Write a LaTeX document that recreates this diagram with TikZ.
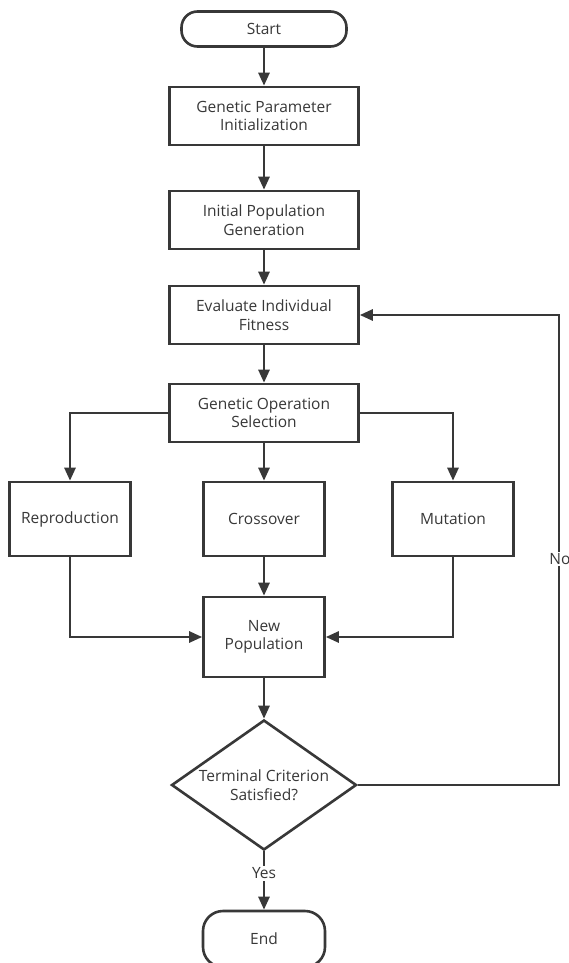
\documentclass[tikz,border=0pt]{standalone}
\usepackage{fontspec}
\setmainfont{Open Sans}
\usetikzlibrary{arrows.meta,shapes.geometric}

\definecolor{ink}{HTML}{383838}

\begin{document}
\begin{tikzpicture}[
  x=1pt, y=-1pt,
  every node/.style={font=\fontsize{15.5}{18.5}\selectfont, text=ink},
  box/.style={draw=ink, line width=2.6pt, minimum width=189pt, minimum height=58pt, align=center},
  opbox/.style={draw=ink, line width=2.6pt, minimum width=121pt, minimum height=74pt, align=center},
  term/.style={draw=ink, line width=2.6pt, rounded corners=16pt, align=center},
  decision/.style={draw=ink, line width=2.6pt, diamond, minimum width=185pt, minimum height=130pt, inner sep=0pt},
  arrow/.style={-{Triangle[length=13pt, width=11pt]}, line width=2.6pt, draw=ink}
]
\clip (0,0) rectangle (569,963);
\fill[white] (0,0) rectangle (569,963);

\node[term, minimum width=165pt, minimum height=35pt] (start) at (264, 29) {Start};
\node[box] (init) at (264, 116) {Genetic Parameter\\Initialization};
\node[box] (pop) at (264, 220) {Initial Population\\Generation};
\node[box] (eval) at (264, 315) {Evaluate Individual\\Fitness};
\node[box] (select) at (264, 413) {Genetic Operation\\Selection};

\node[opbox] (repro) at (70, 519) {Reproduction};
\node[opbox] (cross) at (264, 519) {Crossover};
\node[opbox] (mut) at (453, 519) {Mutation};

\node[opbox, minimum height=80pt] (newpop) at (264, 637) {New\\Population};
\node[decision, label={[align=center]center:Terminal Criterion\\Satisfied?}] (check) at (264, 785) {};
\node[term, minimum width=122pt, minimum height=56pt, rounded corners=20pt] (finish) at (264, 939) {End};

\coordinate (loop) at (559, 785);

\draw[arrow] (start) -- (init);
\draw[arrow] (init) -- (pop);
\draw[arrow] (pop) -- (eval);
\draw[arrow] (eval) -- (select);
\draw[arrow] (select.west) -| (repro.north);
\draw[arrow] (select) -- (cross);
\draw[arrow] (select.east) -| (mut.north);
\draw[arrow] (repro.south) |- (newpop.west);
\draw[arrow] (cross) -- (newpop);
\draw[arrow] (mut.south) |- (newpop.east);
\draw[arrow] (newpop) -- (check);
\draw[arrow] (check.south) -- node[pos=0.38, fill=white, inner sep=2pt] (yes) {Yes} (finish.north);
\draw[arrow] (check.east) -- (loop) |- (eval.east);
\node[fill=white, inner sep=1pt] (no) at (560, 559) {No};
\end{tikzpicture}
\end{document}
